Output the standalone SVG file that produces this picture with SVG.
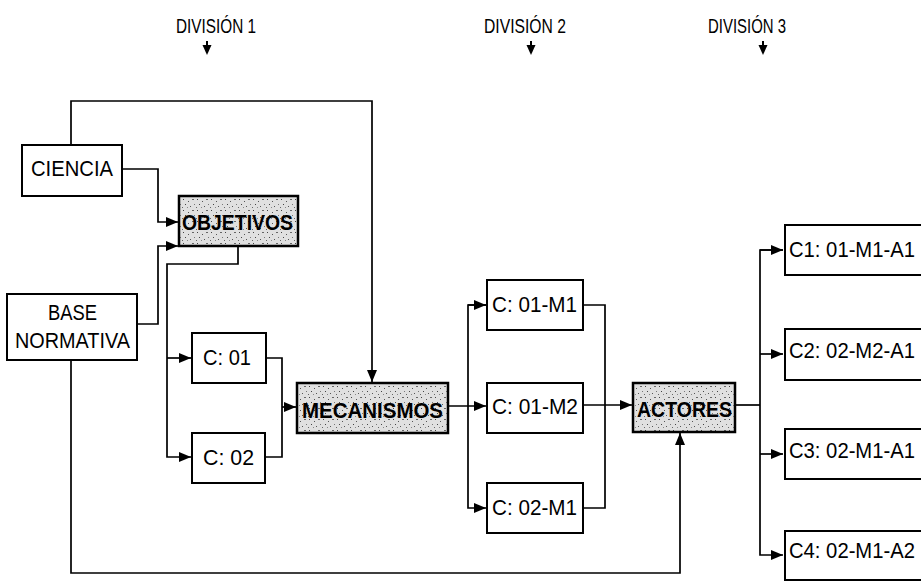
<svg xmlns="http://www.w3.org/2000/svg" width="921" height="584" viewBox="0 0 921 584">
<style>
  text { font-family: "Liberation Sans", Arial, sans-serif; fill: #000; }
  .lbl { font-size: 22px; }
  .bold { font-size: 22px; font-weight: bold; }
  .hdr { font-size: 21px; }
  .box { fill: #fff; stroke: #000; stroke-width: 2; }
  .shaded { fill: url(#stipple); stroke: #000; stroke-width: 2.5; }
  .conn { fill: none; stroke: #000; stroke-width: 1.7; }
</style>
<defs>
  <marker id="arr" viewBox="0 0 12 10" refX="12" refY="5" markerWidth="12" markerHeight="10" markerUnits="userSpaceOnUse" orient="auto">
    <path d="M0,0 L12,5 L0,10 z" fill="#000"/>
  </marker>
  <pattern id="stipple" width="14" height="11" patternUnits="userSpaceOnUse">
    <rect width="14" height="11" fill="#e0e0e0"/>
    <rect x="1" y="1" width="1" height="1" fill="#444"/>
    <rect x="6" y="3" width="1" height="1" fill="#555"/>
    <rect x="10" y="1" width="2" height="1" fill="#666"/>
    <rect x="3" y="6" width="1" height="1" fill="#444"/>
    <rect x="8" y="8" width="1" height="1" fill="#555"/>
    <rect x="12" y="6" width="1" height="1" fill="#777"/>
    <rect x="0" y="9" width="1" height="1" fill="#666"/>
    <rect x="5" y="9" width="1" height="1" fill="#888"/>
  </pattern>
</defs>

<g id="headers">
  <text class="hdr" x="176" y="33" textLength="80" lengthAdjust="spacingAndGlyphs">DIVISIÓN 1</text>
  <path d="M207,41 V47" stroke="#000" stroke-width="2"/>
  <path d="M202.5,45 L211.5,45 L207,55 z" fill="#000"/>
  <text class="hdr" x="484" y="33" textLength="82" lengthAdjust="spacingAndGlyphs">DIVISIÓN 2</text>
  <path d="M531,41 V47" stroke="#000" stroke-width="2"/>
  <path d="M526.5,45 L535.5,45 L531,55 z" fill="#000"/>
  <text class="hdr" x="708" y="33" textLength="78" lengthAdjust="spacingAndGlyphs">DIVISIÓN 3</text>
  <path d="M763,41 V47" stroke="#000" stroke-width="2"/>
  <path d="M758.5,45 L767.5,45 L763,55 z" fill="#000"/>
</g>

<g id="connectors">
  <path class="conn" d="M71,145 V101 H372 V382" marker-end="url(#arr)"/>
  <path class="conn" d="M122,169 H158 V222 H178" marker-end="url(#arr)"/>
  <path class="conn" d="M137,324 H158 V246 H178" marker-end="url(#arr)"/>
  <path class="conn" d="M238,246 V264 H167 V457 H191" marker-end="url(#arr)"/>
  <path class="conn" d="M167,358 H191" marker-end="url(#arr)"/>
  <path class="conn" d="M266,358 H282 V457 H265"/>
  <path class="conn" d="M282,407 H296" marker-end="url(#arr)"/>
  <path class="conn" d="M448,406 H486" marker-end="url(#arr)"/>
  <path class="conn" d="M487,305 H468 V508 H486" marker-end="url(#arr)"/>
  <path class="conn" d="M468,305 H486" marker-end="url(#arr)"/>
  <path class="conn" d="M583,305 H605 V508 H583"/>
  <path class="conn" d="M583,405 H632" marker-end="url(#arr)"/>
  <path class="conn" d="M735,405 H760"/>
  <path class="conn" d="M783,250 H760 V555 H783" marker-end="url(#arr)"/>
  <path class="conn" d="M760,250 H783" marker-end="url(#arr)"/>
  <path class="conn" d="M760,354 H783" marker-end="url(#arr)"/>
  <path class="conn" d="M760,454 H783" marker-end="url(#arr)"/>
  <path class="conn" d="M71,360 V573 H680 V433" marker-end="url(#arr)"/>
</g>

<g id="ciencia">
  <rect class="box" x="22" y="145" width="100" height="51"/>
  <text class="lbl" x="31" y="176" textLength="82" lengthAdjust="spacingAndGlyphs">CIENCIA</text>
</g>
<g id="base-normativa">
  <rect class="box" x="7" y="294" width="130" height="66"/>
  <text class="lbl" x="48" y="320" textLength="49" lengthAdjust="spacingAndGlyphs">BASE</text>
  <text class="lbl" x="15" y="348" textLength="115" lengthAdjust="spacingAndGlyphs">NORMATIVA</text>
</g>
<g id="objetivos">
  <rect class="shaded" x="179" y="196" width="119" height="50"/>
  <text class="bold" x="182" y="230" textLength="111" lengthAdjust="spacingAndGlyphs">OBJETIVOS</text>
</g>
<g id="c01">
  <rect class="box" x="192" y="333" width="74" height="50"/>
  <text class="lbl" x="203" y="365" textLength="48" lengthAdjust="spacingAndGlyphs">C: 01</text>
</g>
<g id="c02">
  <rect class="box" x="192" y="433" width="73" height="50"/>
  <text class="lbl" x="203" y="465" textLength="51" lengthAdjust="spacingAndGlyphs">C: 02</text>
</g>
<g id="mecanismos">
  <rect class="shaded" x="297" y="383" width="151" height="50"/>
  <text class="bold" x="302" y="418" textLength="141" lengthAdjust="spacingAndGlyphs">MECANISMOS</text>
</g>
<g id="c01-m1">
  <rect class="box" x="487" y="280" width="96" height="50"/>
  <text class="lbl" x="492" y="312" textLength="85" lengthAdjust="spacingAndGlyphs">C: 01-M1</text>
</g>
<g id="c01-m2">
  <rect class="box" x="487" y="383" width="96" height="50"/>
  <text class="lbl" x="492" y="414" textLength="86" lengthAdjust="spacingAndGlyphs">C: 01-M2</text>
</g>
<g id="c02-m1">
  <rect class="box" x="487" y="483" width="96" height="50"/>
  <text class="lbl" x="492" y="515" textLength="85" lengthAdjust="spacingAndGlyphs">C: 02-M1</text>
</g>
<g id="actores">
  <rect class="shaded" x="633" y="383" width="102" height="49"/>
  <text class="bold" x="637" y="417" textLength="95" lengthAdjust="spacingAndGlyphs">ACTORES</text>
</g>
<g id="c1">
  <path class="box" d="M921,225 H785 V275 H921"/>
  <text class="lbl" x="789" y="257" textLength="126" lengthAdjust="spacingAndGlyphs">C1: 01-M1-A1</text>
</g>
<g id="c2">
  <path class="box" d="M921,329 H785 V380 H921"/>
  <text class="lbl" x="789" y="358" textLength="126" lengthAdjust="spacingAndGlyphs">C2: 02-M2-A1</text>
</g>
<g id="c3">
  <path class="box" d="M921,429 H785 V479 H921"/>
  <text class="lbl" x="789" y="458" textLength="126" lengthAdjust="spacingAndGlyphs">C3: 02-M1-A1</text>
</g>
<g id="c4">
  <path class="box" d="M921,531 H785 V580 H921"/>
  <text class="lbl" x="789" y="558" textLength="126" lengthAdjust="spacingAndGlyphs">C4: 02-M1-A2</text>
</g>
</svg>
